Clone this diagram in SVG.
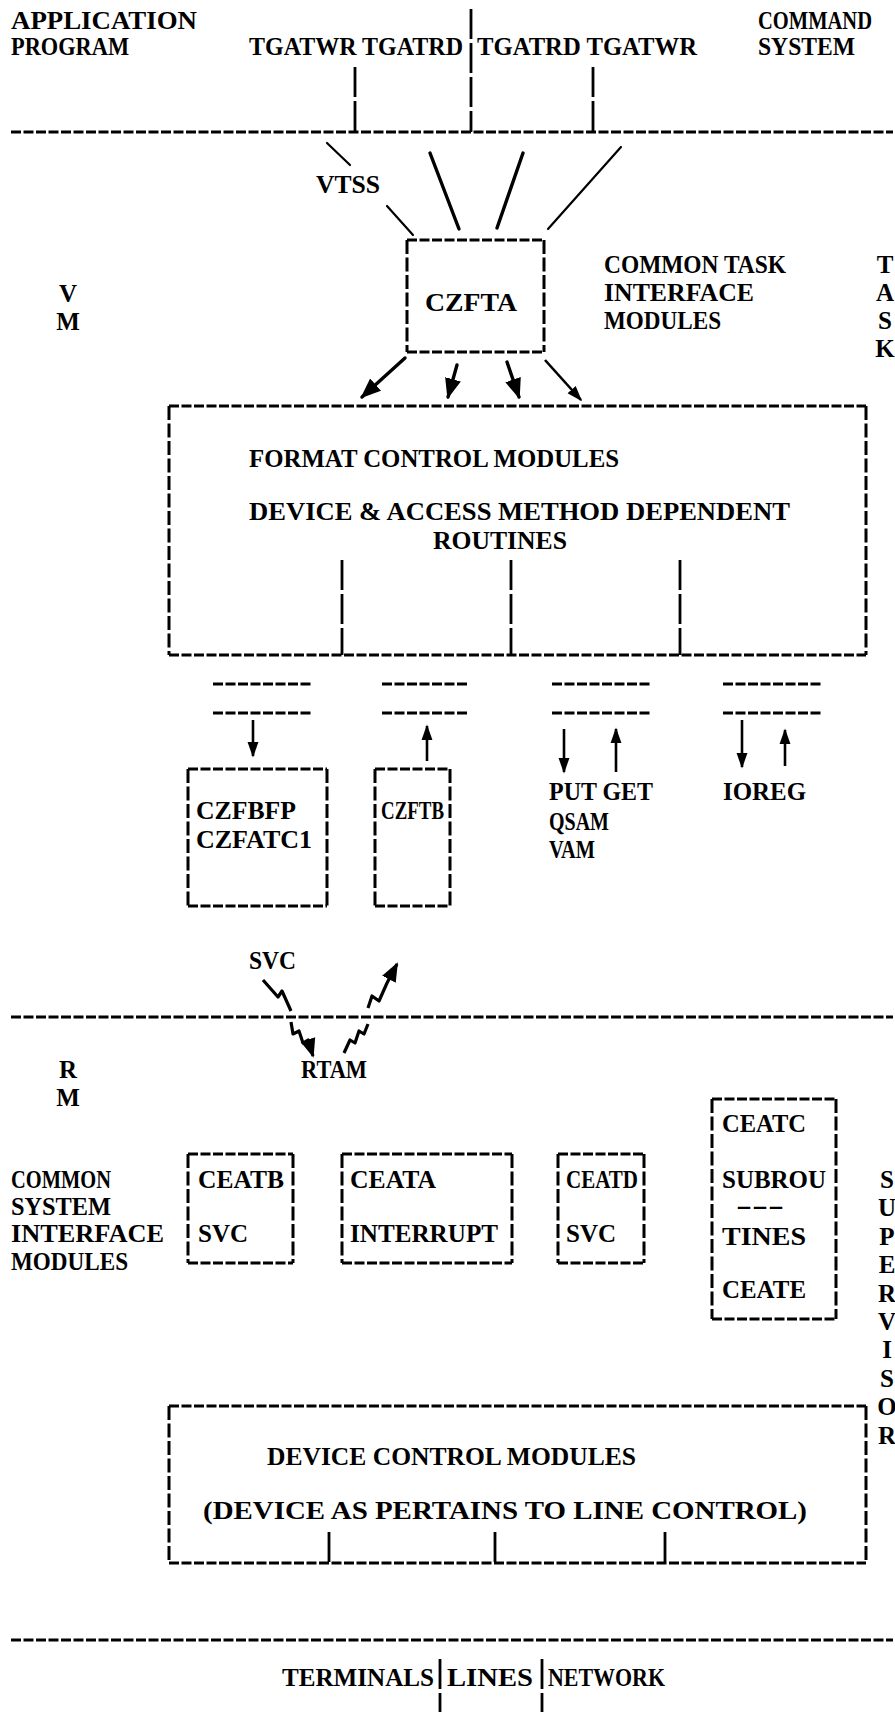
<svg xmlns="http://www.w3.org/2000/svg" width="895" height="1712" viewBox="0 0 895 1712">
<style>
text{font-family:"Liberation Serif","Times New Roman",serif;font-weight:bold;font-size:25px;fill:#000}
.c{text-anchor:middle}
.dh{fill:none;stroke:#000;stroke-width:3;stroke-dasharray:10 2.5}
.dv{fill:none;stroke:#000;stroke-width:3;stroke-dasharray:14 3.5}
.vl{fill:none;stroke:#000;stroke-width:2.8;stroke-dasharray:30 4}
.ln{fill:none;stroke:#000;stroke-width:3.4;stroke-linecap:round}
.thin{fill:none;stroke:#000;stroke-width:2.2;stroke-linecap:round}
.ar{fill:none;stroke:#000;stroke-width:2.6}
.bolt{fill:none;stroke:#000;stroke-width:3.2;stroke-linejoin:round}
</style>
<defs>
<marker id="ah" viewBox="0 0 10 10" refX="9" refY="5" markerWidth="6" markerHeight="6" orient="auto" markerUnits="strokeWidth">
<path d="M0,1 L10,5 L0,9 Z" fill="#000"/>
</marker>
<marker id="ah2" viewBox="0 0 10 10" refX="9" refY="5" markerWidth="6" markerHeight="6" orient="auto" markerUnits="strokeWidth">
<path d="M0,1.5 L10,5 L0,8.5 Z" fill="#000"/>
</marker>
</defs>

<g id="boundaries">
<path class="dh" d="M11,132 H893"/>
<path class="dh" d="M11,1017 H893"/>
<path class="dh" d="M11,1640 H893"/>
</g>

<g id="top-labels">
<text x="11" y="29" textLength="186" lengthAdjust="spacingAndGlyphs">APPLICATION</text>
<text x="11" y="55" textLength="118" lengthAdjust="spacingAndGlyphs">PROGRAM</text>
<text x="249" y="55" textLength="214" lengthAdjust="spacingAndGlyphs">TGATWR TGATRD</text>
<text x="477" y="55" textLength="220" lengthAdjust="spacingAndGlyphs">TGATRD TGATWR</text>
<text x="758" y="29" textLength="114" lengthAdjust="spacingAndGlyphs">COMMAND</text>
<text x="758" y="55" textLength="97" lengthAdjust="spacingAndGlyphs">SYSTEM</text>
</g>

<g id="side-labels">
<text class="c" x="68" y="302">V</text>
<text class="c" x="68" y="330">M</text>
<text class="c" x="885" y="273">T</text>
<text class="c" x="885" y="301">A</text>
<text class="c" x="885" y="329">S</text>
<text class="c" x="885" y="357">K</text>
<text x="604" y="273" textLength="182" lengthAdjust="spacingAndGlyphs">COMMON TASK</text>
<text x="604" y="301" textLength="150" lengthAdjust="spacingAndGlyphs">INTERFACE</text>
<text x="604" y="329" textLength="117" lengthAdjust="spacingAndGlyphs">MODULES</text>
<text class="c" x="68" y="1078">R</text>
<text class="c" x="68" y="1106">M</text>
<text x="11" y="1188" textLength="100" lengthAdjust="spacingAndGlyphs">COMMON</text>
<text x="11" y="1215" textLength="100" lengthAdjust="spacingAndGlyphs">SYSTEM</text>
<text x="11" y="1242" textLength="153" lengthAdjust="spacingAndGlyphs">INTERFACE</text>
<text x="11" y="1270" textLength="117" lengthAdjust="spacingAndGlyphs">MODULES</text>
<text class="c" x="887" y="1188">S</text>
<text class="c" x="887" y="1216">U</text>
<text class="c" x="887" y="1245">P</text>
<text class="c" x="887" y="1273">E</text>
<text class="c" x="887" y="1302">R</text>
<text class="c" x="887" y="1330">V</text>
<text class="c" x="887" y="1358">I</text>
<text class="c" x="887" y="1387">S</text>
<text class="c" x="887" y="1415">O</text>
<text class="c" x="887" y="1444">R</text>
</g>

<g id="czfta">
<path class="dh" d="M407,240 H544 M407,352 H544"/>
<path class="dv" d="M407,240 V352 M544,240 V352"/>
<text x="425" y="311" textLength="92" lengthAdjust="spacingAndGlyphs">CZFTA</text>
</g>

<g id="format-control">
<path class="dh" d="M169,406 H866 M169,655 H866"/>
<path class="dv" d="M169,406 V655 M866,406 V655"/>
<text x="249" y="467" textLength="370" lengthAdjust="spacingAndGlyphs">FORMAT CONTROL MODULES</text>
<text x="249" y="520" textLength="541" lengthAdjust="spacingAndGlyphs">DEVICE &amp; ACCESS METHOD DEPENDENT</text>
<text x="433" y="549" textLength="134" lengthAdjust="spacingAndGlyphs">ROUTINES</text>
<path class="vl" d="M342,560 V655 M511,560 V655 M680,560 V655"/>
</g>

<g id="interfaces">
<path class="dh" d="M213,684 H311 M213,713 H311"/>
<path class="dh" d="M382,684 H469 M382,713 H469"/>
<path class="dh" d="M552,684 H651 M552,713 H651"/>
<path class="dh" d="M723,684 H821 M723,713 H821"/>
</g>

<g id="czfbfp">
<path class="dh" d="M188,769 H327 M188,906 H327"/>
<path class="dv" d="M188,769 V906 M327,769 V906"/>
<text x="196" y="819" textLength="100" lengthAdjust="spacingAndGlyphs">CZFBFP</text>
<text x="196" y="848" textLength="116" lengthAdjust="spacingAndGlyphs">CZFATC1</text>
</g>

<g id="czftb">
<path class="dh" d="M375,769 H450 M375,906 H450"/>
<path class="dv" d="M375,769 V906 M450,769 V906"/>
<text x="381" y="819" textLength="63" lengthAdjust="spacingAndGlyphs">CZFTB</text>
</g>

<g id="access-labels">
<text x="549" y="800" textLength="104" lengthAdjust="spacingAndGlyphs">PUT GET</text>
<text x="549" y="830" textLength="60" lengthAdjust="spacingAndGlyphs">QSAM</text>
<text x="549" y="858" textLength="46" lengthAdjust="spacingAndGlyphs">VAM</text>
<text x="723" y="800" textLength="83" lengthAdjust="spacingAndGlyphs">IOREG</text>
</g>

<g id="rtam-labels">
<text x="249" y="969" textLength="47" lengthAdjust="spacingAndGlyphs">SVC</text>
<text x="301" y="1078" textLength="66" lengthAdjust="spacingAndGlyphs">RTAM</text>
</g>

<g id="ceatb">
<path class="dh" d="M188,1154 H293 M188,1263 H293"/>
<path class="dv" d="M188,1154 V1263 M293,1154 V1263"/>
<text x="198" y="1188" textLength="86" lengthAdjust="spacingAndGlyphs">CEATB</text>
<text x="198" y="1242" textLength="50" lengthAdjust="spacingAndGlyphs">SVC</text>
</g>

<g id="ceata">
<path class="dh" d="M342,1154 H512 M342,1263 H512"/>
<path class="dv" d="M342,1154 V1263 M512,1154 V1263"/>
<text x="350" y="1188" textLength="86" lengthAdjust="spacingAndGlyphs">CEATA</text>
<text x="350" y="1242" textLength="148" lengthAdjust="spacingAndGlyphs">INTERRUPT</text>
</g>

<g id="ceatd">
<path class="dh" d="M558,1154 H644 M558,1263 H644"/>
<path class="dv" d="M558,1154 V1263 M644,1154 V1263"/>
<text x="566" y="1188" textLength="72" lengthAdjust="spacingAndGlyphs">CEATD</text>
<text x="566" y="1242" textLength="50" lengthAdjust="spacingAndGlyphs">SVC</text>
</g>

<g id="ceatc">
<path class="dh" d="M712,1099 H836 M712,1319 H836"/>
<path class="dv" d="M712,1099 V1319 M836,1099 V1319"/>
<text x="722" y="1132" textLength="84" lengthAdjust="spacingAndGlyphs">CEATC</text>
<text x="722" y="1188" textLength="104" lengthAdjust="spacingAndGlyphs">SUBROU</text>
<text x="736" y="1214" textLength="48" lengthAdjust="spacingAndGlyphs">---</text>
<text x="722" y="1245" textLength="84" lengthAdjust="spacingAndGlyphs">TINES</text>
<text x="722" y="1298" textLength="84" lengthAdjust="spacingAndGlyphs">CEATE</text>
</g>

<g id="device-control">
<path class="dh" d="M169,1406 H866 M169,1563 H866"/>
<path class="dv" d="M169,1406 V1563 M866,1406 V1563"/>
<text x="267" y="1465" textLength="369" lengthAdjust="spacingAndGlyphs">DEVICE CONTROL MODULES</text>
<text x="203" y="1519" textLength="604" lengthAdjust="spacingAndGlyphs">(DEVICE AS PERTAINS TO LINE CONTROL)</text>
<path class="vl" d="M329,1532 V1563 M495,1532 V1563 M665,1532 V1563"/>
</g>

<g id="bottom-labels">
<text x="282" y="1686" textLength="152" lengthAdjust="spacingAndGlyphs">TERMINALS</text>
<text x="447" y="1686" textLength="86" lengthAdjust="spacingAndGlyphs">LINES</text>
<text x="548" y="1686" textLength="117" lengthAdjust="spacingAndGlyphs">NETWORK</text>
</g>

<g id="connectors">
<path class="vl" d="M471,9 V132 M355,67 V132 M593,67 V132"/>
<path class="vl" d="M440,1659 V1712 M542,1659 V1712"/>
<path class="thin" d="M327,143 L350,165 M387,206 L413,235"/>
<text x="316" y="193" textLength="64" lengthAdjust="spacingAndGlyphs">VTSS</text>
<path class="ln" d="M430,153 L459,229"/>
<path class="ln" d="M523,153 L497,228"/>
<path class="thin" stroke-width="2.8" d="M621,147 L548,229"/>
<path class="ln" d="M405,358 L362,397" marker-end="url(#ah)"/>
<path class="ln" d="M457,365 L448,397" marker-end="url(#ah)"/>
<path class="ln" d="M507,362 L519,397" marker-end="url(#ah)"/>
<path class="ar" d="M545,360 L581,400" marker-end="url(#ah2)"/>
<path class="ar" d="M253,720 V756" marker-end="url(#ah2)"/>
<path class="ar" d="M427,761 V726" marker-end="url(#ah2)"/>
<path class="ar" d="M564,729 V772" marker-end="url(#ah2)"/>
<path class="ar" d="M616,772 V729" marker-end="url(#ah2)"/>
<path class="ar" d="M742,720 V767" marker-end="url(#ah2)"/>
<path class="ar" d="M785,766 V730" marker-end="url(#ah2)"/>
<path class="bolt" d="M263,980 L278,997 L282,991 L291,1011"/>
<path class="bolt" d="M291,1022 L293,1034 L299,1031 L303,1043 L308,1040 L313,1056" marker-end="url(#ah)"/>
<path class="bolt" d="M344,1053 L350,1040 L355,1043 L359,1031 L364,1034 L368,1024"/>
<path class="bolt" d="M368,1008 L372,996 L379,1001 L387,983 L397,964" marker-end="url(#ah)"/>
</g>
</svg>
